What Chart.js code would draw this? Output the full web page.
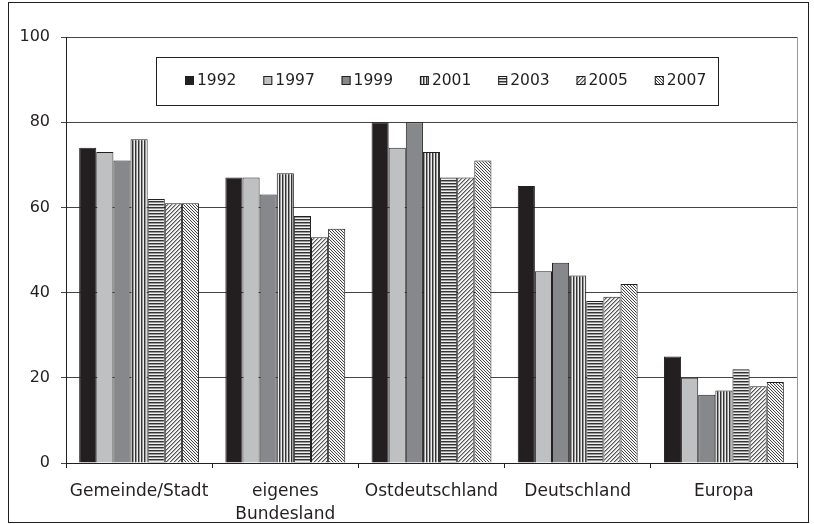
<!doctype html>
<html lang="de">
  <head>
    <meta charset="utf-8">
    <title>Verbundenheit</title>
    <style>
      * { margin: 0; padding: 0; }
      body { background: #fff; }
      .chartBox { width: 814px; height: 524px; position: relative; }
    </style>
  </head>
  <body>
    <div class="chartBox">
      <canvas id="myChart"></canvas>
    </div>
    <script src="https://cdn.jsdelivr.net/npm/chart.js/dist/chart.umd.min.js"></script>
    <script>
    // data
    const categories = ['Gemeinde/Stadt', ['eigenes', 'Bundesland'], 'Ostdeutschland', 'Deutschland', 'Europa'];
    const years = ['1992', '1997', '1999', '2001', '2003', '2005', '2007'];
    const v1992 = [74, 67, 80, 65, 25];
    const v1997 = [73, 67, 74, 45, 20];
    const v1999 = [71, 63, 80, 47, 16];
    const v2001 = [76, 68, 73, 44, 17];
    const v2003 = [62, 58, 67, 38, 22];
    const v2005 = [61, 53, 67, 39, 18];
    const v2007 = [61, 55, 71, 42, 19];
    const yTicks = [0, 20, 40, 60, 80, 100];

    // fill patterns
    function makePattern(w, h, draw) {
      const c = document.createElement('canvas');
      c.width = w; c.height = h;
      const g = c.getContext('2d');
      draw(g);
      return document.createElement('canvas').getContext('2d').createPattern(c, 'repeat');
    }
    const vertStripes = makePattern(3, 1, g => {
      g.fillStyle = '#eeeeee'; g.fillRect(0, 0, 3, 1);
      g.fillStyle = '#333333'; g.fillRect(0, 0, 1, 1);
      g.fillStyle = '#999999'; g.fillRect(1, 0, 1, 1);
    });
    const horzStripes = makePattern(1, 3, g => {
      g.fillStyle = '#eeeeee'; g.fillRect(0, 0, 1, 3);
      g.fillStyle = '#333333'; g.fillRect(0, 0, 1, 1);
      g.fillStyle = '#999999'; g.fillRect(0, 1, 1, 1);
    });
    const diagUp = makePattern(4, 4, g => {
      g.fillStyle = '#f2f2f2'; g.fillRect(0, 0, 4, 4);
      g.fillStyle = '#555555';
      for (let i = 0; i < 4; i++) g.fillRect(3 - i, i, 1, 1);
      g.fillStyle = '#aaaaaa';
      for (let i = 0; i < 4; i++) g.fillRect((4 - i) % 4, i, 1, 1);
    });
    const diagDown = makePattern(3, 3, g => {
      g.fillStyle = '#f5f5f5'; g.fillRect(0, 0, 3, 3);
      g.fillStyle = '#444444';
      for (let i = 0; i < 3; i++) g.fillRect(i, i, 1, 1);
    });

    const fills = ['#231f20', '#bfc0c2', '#87888b', vertStripes, horzStripes, diagUp, diagDown];
    const values = [v1992, v1997, v1999, v2001, v2003, v2005, v2007];

    const data = {
      labels: categories,
      datasets: years.map((y, i) => ({
        label: y,
        data: values[i],
        backgroundColor: fills[i],
        borderColor: '#231f20',
        borderWidth: 1,
        borderSkipped: 'bottom',
        categoryPercentage: 0.82,
        barPercentage: 1
      }))
    };

    // frame, plot border and legend box drawn on the canvas
    const framePlugin = {
      id: 'frame',
      afterDatasetsDraw(chart) {
        const ctx = chart.ctx;
        const a = chart.chartArea;
        ctx.save();
        ctx.lineWidth = 1;
        ctx.strokeStyle = '#999999';
        ctx.beginPath();
        ctx.moveTo(a.right + 0.5, a.top);
        ctx.lineTo(a.right + 0.5, a.bottom);
        ctx.stroke();

        ctx.strokeStyle = '#231f20';
        ctx.strokeRect(8.5, 2.5, 800, 520);

        // legend
        ctx.fillStyle = '#ffffff';
        ctx.fillRect(156, 57, 562, 48);
        ctx.strokeStyle = '#231f20';
        ctx.strokeRect(156.5, 57.5, 562, 48);
        ctx.font = '15.5px "DejaVu Sans"';
        ctx.textBaseline = 'middle';
        chart.data.datasets.forEach((ds, i) => {
          const x = 185 + i * 78.3;
          ctx.fillStyle = ds.backgroundColor;
          ctx.fillRect(x, 76, 9, 9);
          ctx.strokeStyle = '#231f20';
          ctx.strokeRect(x + 0.5, 76.5, 8, 8);
          ctx.fillStyle = '#231f20';
          ctx.fillText(ds.label, x + 12, 81);
        });
        ctx.restore();
      }
    };

    const config = {
      type: 'bar',
      data,
      options: {
        responsive: true,
        maintainAspectRatio: false,
        animation: false,
        layout: { padding: { top: 37, right: 17, left: 0, bottom: 0 } },
        plugins: {
          legend: { display: false },
          tooltip: { enabled: false }
        },
        scales: {
          x: {
            afterFit: s => { s.height = 61; },
            grid: {
              display: true,
              offset: true,
              drawOnChartArea: false,
              drawTicks: true,
              tickLength: 5,
              color: '#231f20'
            },
            border: { color: '#231f20', width: 1 },
            ticks: {
              color: '#231f20',
              padding: 13,
              font: { family: 'DejaVu Sans', size: 17, lineHeight: 1.3 },
              maxRotation: 0,
              autoSkip: false
            }
          },
          y: {
            min: 0,
            max: 100,
            afterFit: s => { s.width = 66; },
            afterBuildTicks: s => { s.ticks = yTicks.map(v => ({ value: v })); },
            grid: {
              color: '#444444',
              tickLength: 5,
              lineWidth: 1
            },
            border: { color: '#231f20', width: 1 },
            ticks: {
              color: '#231f20',
              padding: 11,
              font: { family: 'DejaVu Sans', size: 16 }
            }
          }
        }
      },
      plugins: [framePlugin]
    };

    const myChart = new Chart(document.getElementById('myChart'), config);
    </script>
  </body>
</html>
